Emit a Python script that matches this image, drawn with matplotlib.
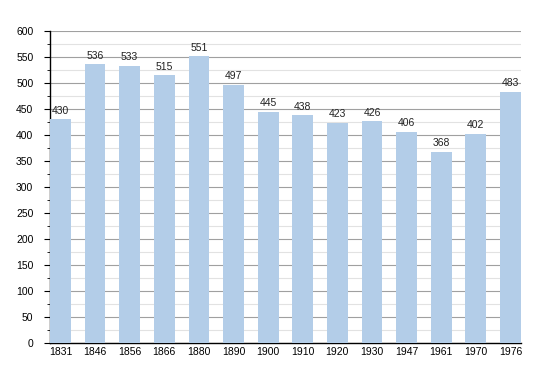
import numpy as np
import matplotlib.pyplot as plt
from matplotlib.ticker import MultipleLocator

years = ['1831', '1846', '1856', '1866', '1880', '1890', '1900', '1910',
         '1920', '1930', '1947', '1961', '1970', '1976']
population = [430, 536, 533, 515, 551, 497, 445, 438, 423, 426, 406, 368, 402, 483]

plt.rcParams['font.family'] = ['Liberation Sans', 'DejaVu Sans']

fig = plt.figure(figsize=(5.5, 3.73), dpi=100)
ax = fig.add_axes([0.091, 0.080, 0.856, 0.837])

x = np.arange(len(years))
ax.bar(x, population, width=0.6, color='#b3cde8', zorder=3)
for xi, v in zip(x, population):
    ax.text(xi, v + 7, str(v), ha='center', va='bottom', fontsize=7.5, color='#222222', zorder=4)

ax.set_xlim(-0.3, len(years) - 0.7)
ax.set_ylim(0, 600)
ax.set_xticks(x)
ax.set_xticklabels(years)
ax.yaxis.set_major_locator(MultipleLocator(50))
ax.yaxis.set_minor_locator(MultipleLocator(25))
ax.grid(axis='y', which='major', color='#a0a0a0', linewidth=0.8, zorder=0)
ax.grid(axis='y', which='minor', color='#e2e2e2', linewidth=0.8, zorder=0)
ax.tick_params(axis='x', length=0, labelsize=7.5, pad=3)
ax.tick_params(axis='y', which='major', length=4, labelsize=7.5, pad=8)
ax.tick_params(axis='y', which='minor', length=2)
for s in ['top', 'right']:
    ax.spines[s].set_visible(False)
ax.spines['left'].set_linewidth(1.0)
ax.spines['bottom'].set_linewidth(1.0)

fig.savefig('out.png', dpi=100)
